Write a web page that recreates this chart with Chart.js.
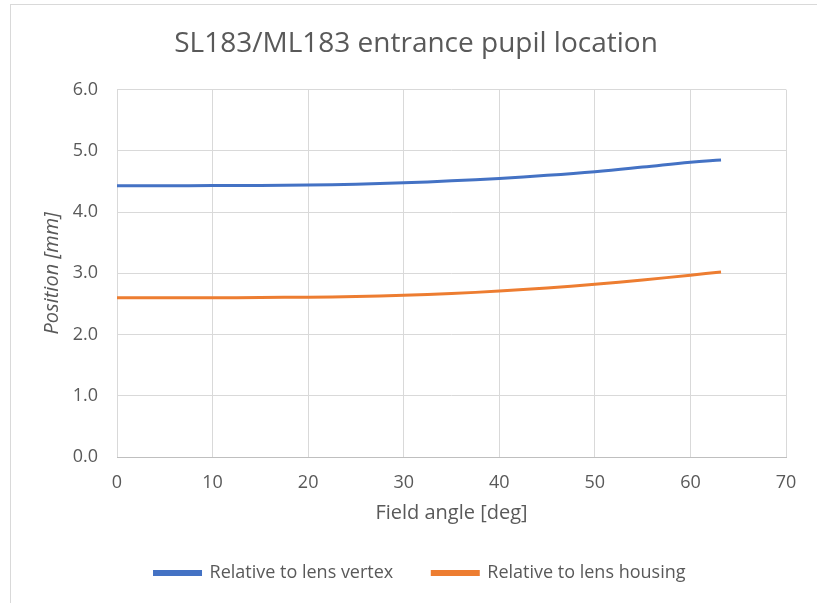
<!DOCTYPE html>
<html>
<head>
<meta charset="utf-8">
<script src="https://cdn.jsdelivr.net/npm/chart.js@4/dist/chart.umd.min.js"></script>
<style>
  html, body { margin: 0; padding: 0; background: #fff; }
  #wrap { width: 817px; height: 603px; }
</style>
</head>
<body>
<div id="wrap"><canvas id="myChart" width="817" height="603"></canvas></div>
<script>
const fieldAngle = [0, 5, 10, 15, 20, 25, 30, 35, 40, 45, 50, 55, 60, 63.2];
const lensVertex = [4.43, 4.43, 4.432, 4.435, 4.44, 4.455, 4.478, 4.51, 4.55, 4.60, 4.66, 4.735, 4.815, 4.85];
const lensHousing = [2.60, 2.60, 2.60, 2.605, 2.61, 2.62, 2.64, 2.67, 2.71, 2.76, 2.82, 2.89, 2.97, 3.02];
const xTicks = [0, 10, 20, 30, 40, 50, 60, 70];
const yTicks = [0, 1, 2, 3, 4, 5, 6];

const grey = '#595959';
const font = "'Open Sans', sans-serif";

function toPoints(ys) {
    return fieldAngle.map((x, i) => ({ x: x, y: ys[i] }));
}

// light frame round the chart, like the office export
const framePlugin = {
    id: 'frame',
    afterLayout(chart) {
        // title and legend are centred on the whole frame, not the plot
        chart.titleBlock.right += 36;
        chart.legend.left += 22;
        chart.legend.right += 22;
    },
    beforeDraw(chart) {
        const c = chart.ctx;
        c.save();
        c.fillStyle = '#fff';
        c.fillRect(0, 0, chart.width, chart.height);
        c.strokeStyle = '#d9d9d9';
        c.lineWidth = 1;
        c.strokeRect(10.5, 4.5, 900, 700);
        c.restore();
    }
};

const ctx = document.getElementById('myChart').getContext('2d');
const chart = new Chart(ctx, {
    type: 'scatter',
    data: {
        datasets: [{
            label: 'Relative to lens vertex',
            data: toPoints(lensVertex),
            borderColor: '#4472C4',
            backgroundColor: '#4472C4',
            borderWidth: 3,
            showLine: true,
            pointRadius: 0,
            tension: 0.4
        }, {
            label: 'Relative to lens housing',
            data: toPoints(lensHousing),
            borderColor: '#ED7D31',
            backgroundColor: '#ED7D31',
            borderWidth: 3,
            showLine: true,
            pointRadius: 0,
            tension: 0.4
        }]
    },
    options: {
        responsive: false,
        animation: false,
        layout: { padding: { left: 10, right: 31, top: 4, bottom: 11 } },
        plugins: {
            title: {
                display: true,
                text: 'SL183/ML183 entrance pupil location',
                color: grey,
                font: { family: font, size: 28, weight: 'normal' },
                padding: { top: 23, bottom: 29 }
            },
            legend: {
                position: 'bottom',
                labels: {
                    color: grey,
                    font: { family: font, size: 18 },
                    boxWidth: 46,
                    boxHeight: 3,
                    padding: 39
                }
            },
            tooltip: { enabled: false }
        },
        scales: {
            x: {
                type: 'linear',
                min: 0,
                max: 70,
                afterBuildTicks: s => { s.ticks = xTicks.map(v => ({ value: v })); },
                afterFit: s => { s.height = 68; },
                grid: { color: '#d9d9d9', drawTicks: false },
                border: { color: '#bfbfbf' },
                ticks: { color: grey, font: { family: font, size: 18 }, padding: 15 },
                title: {
                    display: true,
                    text: 'Field angle [deg]',
                    color: grey,
                    font: { family: font, size: 20 },
                    padding: { top: 0, bottom: 0 }
                }
            },
            y: {
                min: 0,
                max: 6,
                afterBuildTicks: s => { s.ticks = yTicks.map(v => ({ value: v })); },
                afterFit: s => { s.width = 107; },
                grid: { color: '#d9d9d9', drawTicks: false },
                border: { display: false },
                ticks: {
                    color: grey,
                    font: { family: font, size: 18 },
                    padding: 19,
                    callback: v => v.toFixed(1)
                },
                title: {
                    display: true,
                    text: 'Position [mm]',
                    color: grey,
                    font: { family: font, size: 20, style: 'italic' },
                    padding: { top: 30 }
                }
            }
        }
    },
    plugins: [framePlugin]
});
</script>
</body>
</html>
